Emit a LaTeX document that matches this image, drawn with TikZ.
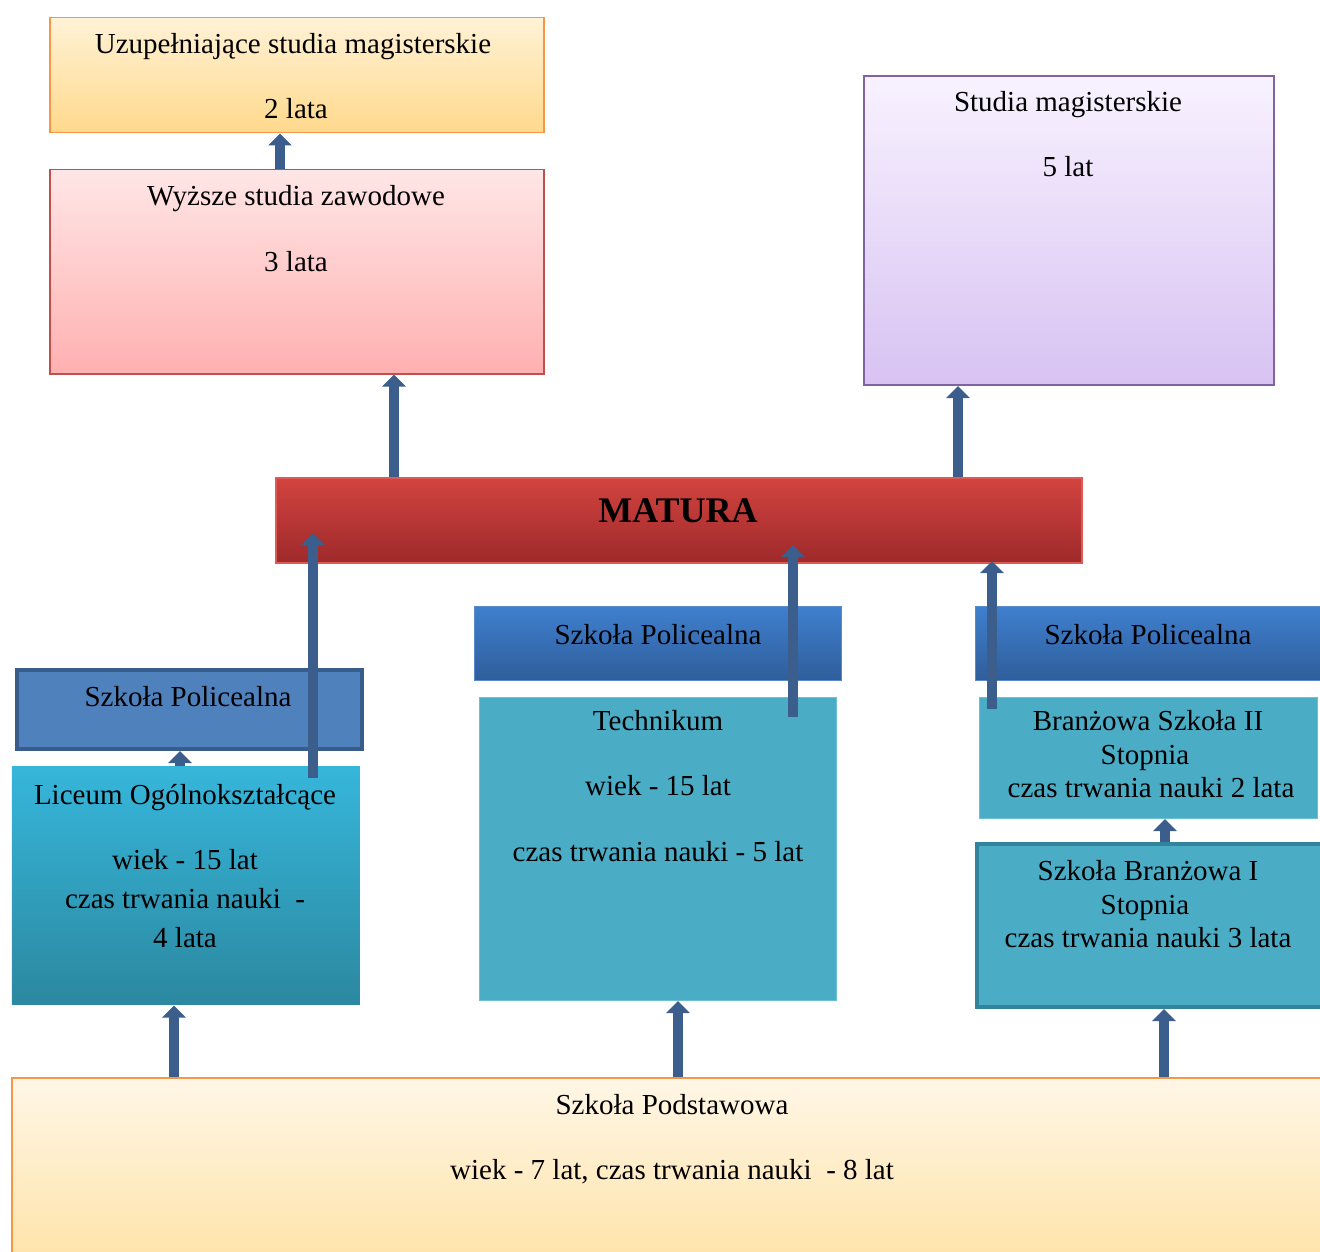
\documentclass[tikz,border=0pt]{standalone}
\usepackage{fontspec}
\setmainfont{Liberation Serif}
\usetikzlibrary{arrows.meta}
\definecolor{arrowc}{HTML}{3B5E8C}
\definecolor{uzT}{HTML}{FFF2D6}
\definecolor{uzB}{HTML}{FFD98C}
\definecolor{orangeB}{HTML}{F79646}
\definecolor{wyT}{HTML}{FFE6E6}
\definecolor{wyB}{HTML}{FFB0B0}
\definecolor{redB}{HTML}{C0504D}
\definecolor{smT}{HTML}{F8F2FF}
\definecolor{smB}{HTML}{D8C2F2}
\definecolor{purpB}{HTML}{8064A2}
\definecolor{maT}{HTML}{D2433F}
\definecolor{maB}{HTML}{9E2A2A}
\definecolor{maBd}{HTML}{E05A55}
\definecolor{polL}{HTML}{4F81BD}
\definecolor{polLB}{HTML}{385D8A}
\definecolor{liT}{HTML}{36B6DB}
\definecolor{liB}{HTML}{2C88A0}
\definecolor{teal}{HTML}{4BACC6}
\definecolor{tealB}{HTML}{31849B}
\definecolor{tealL}{HTML}{6CC0D6}
\definecolor{poT}{HTML}{3F7FCE}
\definecolor{poB}{HTML}{2F5E9B}
\definecolor{poBd}{HTML}{5A8ACB}
\definecolor{pdT}{HTML}{FFF6E6}
\definecolor{pdB}{HTML}{FFE4AA}
\tikzset{
  box/.style={anchor=north west, inner sep=0pt, line width=1.5pt},
  txt/.style={anchor=base, inner sep=0pt, font=\fontsize{29}{32}\selectfont},
  barrow/.style={draw=arrowc, line width=10pt,
    -{Triangle[width=23pt,length=12pt]}},
}
\begin{document}
\begin{tikzpicture}[x=1pt,y=-1pt]
\useasboundingbox (0,0) rectangle (1320,1252);
% boxes
\node[box, draw=orangeB, top color=uzT, bottom color=uzB,
  minimum width=494pt, minimum height=115pt] (uz) at (49,17) {};
\node[box, draw=redB, top color=wyT, bottom color=wyB,
  minimum width=494pt, minimum height=204pt] (wy) at (49,169) {};
\node[box, draw=purpB, line width=2pt, top color=smT, bottom color=smB,
  minimum width=410pt, minimum height=309pt] (sm) at (863,75) {};
\node[box, draw=maBd, top color=maT, bottom color=maB,
  minimum width=806pt, minimum height=85pt] (ma) at (275,477) {};
\node[box, draw=polLB, line width=4pt, fill=polL,
  minimum width=345pt, minimum height=79pt] (pl) at (15,668) {};
\node[box, draw=none, top color=liT, bottom color=liB,
  minimum width=348pt, minimum height=238pt] (li) at (11,766) {};
\node[box, draw=poBd, line width=1pt, top color=poT, bottom color=poB,
  minimum width=367pt, minimum height=74pt] (pm) at (474,606) {};
\node[box, draw=tealL, line width=1pt, fill=teal,
  minimum width=357pt, minimum height=303pt] (te) at (479,697) {};
\node[box, draw=poBd, line width=1pt, top color=poT, bottom color=poB,
  minimum width=350pt, minimum height=74pt] (pr) at (975,606) {};
\node[box, draw=tealL, line width=1pt, fill=teal,
  minimum width=338pt, minimum height=121pt] (b2) at (979,697) {};
\node[box, draw=tealB, line width=4pt, fill=teal,
  minimum width=350pt, minimum height=163pt] (b1) at (975,842) {};
\node[box, draw=orangeB, top color=pdT, bottom color=pdB,
  minimum width=1315pt, minimum height=180pt] (pd) at (11,1077) {};
% texts
\node[txt] (uz1) at (293,54) {Uzupełniające studia magisterskie};
\node[txt] (uz2) at (296,119) {2 lata};
\node[txt] (wy1) at (296,206) {Wyższe studia zawodowe};
\node[txt] (wy2) at (296,271) {3 lata};
\node[txt] (sm1) at (1068,112) {Studia magisterskie};
\node[txt] (sm2) at (1068,177) {5 lat};
\node[txt, font=\fontsize{36}{40}\selectfont\bfseries] (ma1) at (678,522) {MATURA};
\node[txt] (pl1) at (188,706) {Szkoła Policealna};
\node[txt] (li1) at (185,804) {Liceum Ogólnokształcące};
\node[txt] (li2) at (185,869) {wiek - 15 lat};
\node[txt] (li3) at (185,908) {czas trwania nauki~~-};
\node[txt] (li4) at (185,947) {4 lata};
\node[txt] (pm1) at (658,644) {Szkoła Policealna};
\node[txt] (te1) at (658,730) {Technikum};
\node[txt] (te2) at (658,795) {wiek - 15 lat};
\node[txt] (te3) at (658,861) {czas trwania nauki - 5 lat};
\node[txt] (pr1) at (1148,644) {Szkoła Policealna};
\node[txt] (b21) at (1148,730) {Branżowa Szkoła II};
\node[txt] (b22) at (1145,764) {Stopnia};
\node[txt] (b23) at (1151,797) {czas trwania nauki 2 lata};
\node[txt] (b11) at (1148,880) {Szkoła Branżowa I};
\node[txt] (b12) at (1145,914) {Stopnia};
\node[txt] (b13) at (1148,947) {czas trwania nauki 3 lata};
\node[txt] (pd1) at (672,1114) {Szkoła Podstawowa};
\node[txt] (pd2) at (672,1179) {wiek - 7 lat, czas trwania nauki~~- 8 lat};
% free arrow ends
\coordinate (a4s) at (313,778);
\coordinate (a4e) at (313,533);
\coordinate (a6s) at (793,717);
\coordinate (a6e) at (793,545);
\coordinate (a7s) at (992,709);
\coordinate (a7e) at (992,561);
% arrows
\draw[barrow] (wy.north -| 280,0) -- (uz.south -| 280,0);
\draw[barrow] (ma.north -| 394,0) -- (wy.south -| 394,0);
\draw[barrow] (ma.north -| 958,0) -- (sm.south -| 958,0);
\draw[barrow] (li.north -| 180,0) -- (pl.south -| 180,0);
\draw[barrow] (a4s) -- (a4e);
\draw[barrow] (a6s) -- (a6e);
\draw[barrow] (a7s) -- (a7e);
\draw[barrow] (b1.north -| 1165,0) -- (b2.south -| 1165,0);
\draw[barrow] (pd.north -| 174,0) -- (li.south -| 174,0);
\draw[barrow] (pd.north -| 678,0) -- (te.south -| 678,0);
\draw[barrow] (pd.north -| 1164,0) -- (b1.south -| 1164,0);
\end{tikzpicture}
\end{document}
